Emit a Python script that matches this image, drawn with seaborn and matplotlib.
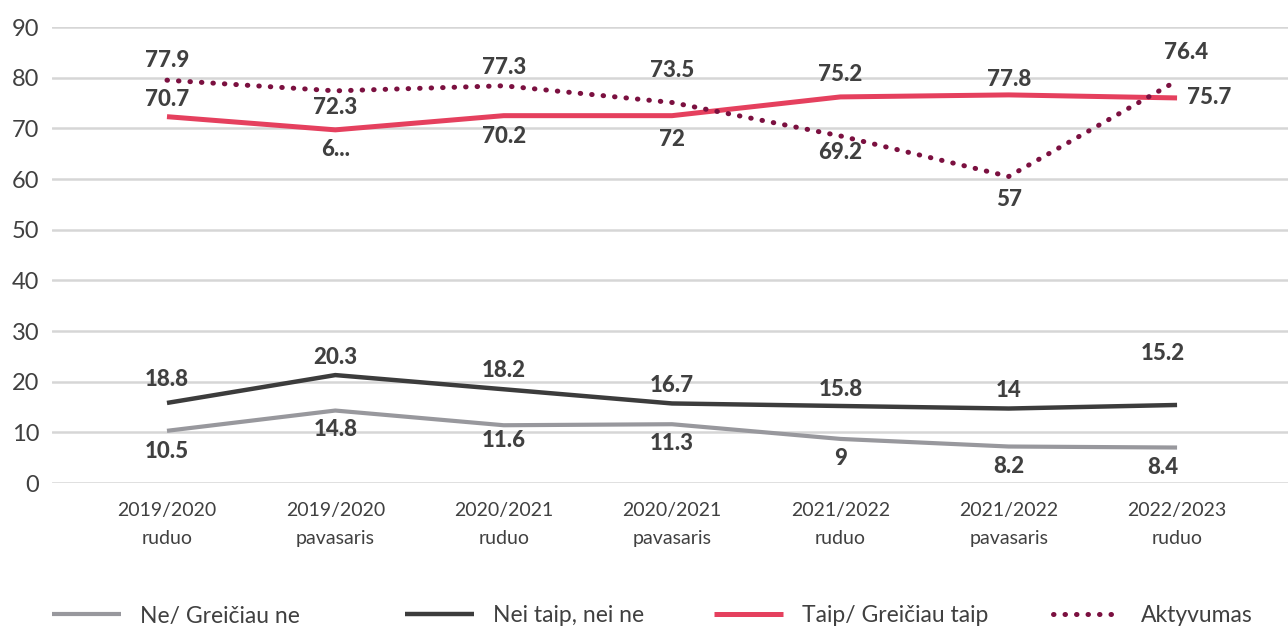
import pandas as pd
import seaborn as sns
import matplotlib.pyplot as plt

# categories (x axis)
periods = ["2019/2020\nruduo", "2019/2020\npavasaris", "2020/2021\nruduo",
           "2020/2021\npavasaris", "2021/2022\nruduo", "2021/2022\npavasaris",
           "2022/2023\nruduo"]

# values as drawn by the lines
ne_vals = [10.3, 14.3, 11.4, 11.6, 8.7, 7.2, 7.0]
nei_vals = [15.8, 21.3, 18.5, 15.7, 15.2, 14.7, 15.4]
taip_vals = [72.3, 69.7, 72.5, 72.5, 76.2, 76.6, 76.0]
akt_vals = [79.5, 77.4, 78.4, 75.1, 68.5, 60.5, 79.4]

# value labels printed on the chart
ne_labels = ["10.5", "14.8", "11.6", "11.3", "9", "8.2", "8.4"]
nei_labels = ["18.8", "20.3", "18.2", "16.7", "15.8", "14", "15.2"]
taip_labels = ["70.7", "6...", "70.2", "72", "75.2", "77.8", "75.7"]
akt_labels = ["77.9", "72.3", "77.3", "73.5", "69.2", "57", "76.4"]

series_names = ["Ne/ Greičiau ne", "Nei taip, nei ne", "Taip/ Greičiau taip", "Aktyvumas"]

# label offsets in pixels (dx, dy) relative to each point
ne_off = [(0, -21), (0, -19), (0, -15), (0, -19), (0, -20), (0, -20), (-14, -20)]
nei_off = [(0, 23), (0, 18), (0, 19), (0, 18), (0, 16), (0, 18), (-14, 51)]
taip_off = [(0, 17), (0, -20), (0, -21), (0, -24), (0, 22), (0, 15), (10, 0)]
akt_off = [(0, 20), (0, -17), (0, 18), (0, 32), (0, -17), (0, -23), (9, 28)]

# left edge (px) of each legend entry
legend_x = [52, 405, 714, 1053]

sns.set_theme(style="white")
plt.rcParams['font.family'] = ['Lato', 'DejaVu Sans']

text_col = "#404040"
styles = [
    (ne_vals, ne_labels, ne_off, "#98989d", "-", 3.0),
    (nei_vals, nei_labels, nei_off, "#3c3c3c", "-", 3.2),
    (taip_vals, taip_labels, taip_off, "#e5405e", "-", 3.6),
    (akt_vals, akt_labels, akt_off, "#7b1040", (0, (0.1, 2.2)), 3.6),
]

fig = plt.figure(figsize=(12.88, 6.28), dpi=100)
ax = fig.add_axes([52 / 1288, 145 / 628, 1236 / 1288, 456 / 628])

xs = list(range(len(periods)))
for (vals, labels, offs, col, ls, lw), name in zip(styles, series_names):
    df = pd.DataFrame({"x": xs, "y": vals})
    sns.lineplot(data=df, x="x", y="y", ax=ax, color=col, linestyle=ls,
                 linewidth=lw, label=name, solid_capstyle="butt",
                 dash_capstyle="round", zorder=3)
    for x, y, t, (dx, dy) in zip(xs, vals, labels, offs):
        ha = "left" if dx > 0 and dy == 0 else "center"
        ax.annotate(t, (x, y), xytext=(dx, dy), textcoords="offset pixels",
                    ha=ha, va="center", fontsize=16, fontweight="black",
                    color=text_col, zorder=4)

ax.set_xlim(-0.683, 6.659)
ax.set_ylim(0, 90)
ax.set_yticks(range(0, 91, 10))
ax.set_xticks(xs)
ax.set_xticklabels(periods, fontsize=14, color=text_col, linespacing=1.75)
ax.tick_params(axis="y", labelsize=17, labelcolor=text_col, length=0, pad=9)
ax.tick_params(axis="x", length=0, pad=14)
ax.set_xlabel("")
ax.set_ylabel("")
ax.grid(axis="y", color="#d6d6d6", linewidth=1.8, zorder=0)
ax.set_axisbelow(True)
for s in ax.spines.values():
    s.set_visible(False)

handles, labels = ax.get_legend_handles_labels()
ax.get_legend().remove()
for h, l, lx in zip(handles, labels, legend_x):
    fig.legend([h], [l], loc="center left", bbox_to_anchor=(lx / 1288, 12 / 628),
               frameon=False, fontsize=16.5, handlelength=3.0,
               handletextpad=0.85, borderpad=0, borderaxespad=0,
               labelcolor=text_col)

fig.savefig("out.png", dpi=100)
